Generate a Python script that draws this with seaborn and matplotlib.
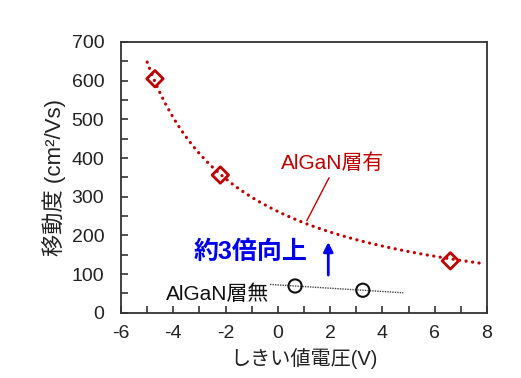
import numpy as np
import pandas as pd
import matplotlib
matplotlib.use("Agg")
import matplotlib.pyplot as plt
import seaborn as sns

# ---- data ----
with_x = [-4.7, -2.2, 6.6]          # AlGaN層有 (threshold voltage, V)
with_y = [605, 356, 134]            # mobility cm2/Vs
without_x = [0.66, 3.25]            # AlGaN層無
without_y = [69, 58]

# model curve (mobility ~ a/(Vth + c) + d) drawn over this range
model_a, model_c, model_d = 2452.0, 8.663, -21.4
model_range = [-5.0, 7.75]
lin_range = [-0.3, 4.8]

xticks = [-6, -4, -2, 0, 2, 4, 6, 8]
yticks = [0, 100, 200, 300, 400, 500, 600, 700]

RED = "#C00000"
BLUE = "#0000F0"

sns.set_theme(style="ticks")
plt.rcParams["font.family"] = ["Liberation Sans", "Noto Sans CJK JP"]
plt.rcParams["axes.unicode_minus"] = False

fig = plt.figure(figsize=(5.21, 3.78), dpi=100)
ax = fig.add_axes([0.2322, 0.1728, 0.9347 - 0.2322, 0.8889 - 0.1728])

# model curve
mx = np.linspace(model_range[0], model_range[1], 300)
my = model_a / (mx + model_c) + model_d
sns.lineplot(x=mx, y=my, ax=ax, color=RED, lw=2.3,
             linestyle=(0, (0.05, 2.0)), dash_capstyle="round", sort=False)

# linear fit for no-AlGaN data
p = np.polyfit(without_x, without_y, 1)
lx = np.array(lin_range)
sns.lineplot(x=lx, y=np.polyval(p, lx), ax=ax, color="#444444", lw=1.0,
             linestyle=(0, (1, 0.8)))

# markers
sns.scatterplot(x=with_x, y=with_y, ax=ax, marker="D", s=70,
                color=RED, linewidth=2.0, zorder=5)
ax.collections[-1].set_facecolor("none")
ax.collections[-1].set_edgecolor(RED)
sns.scatterplot(x=without_x, y=without_y, ax=ax, marker="o", s=90,
                color="black", linewidth=1.5, zorder=5)
ax.collections[-1].set_facecolor("none")
ax.collections[-1].set_edgecolor("#111111")

# annotations
ax.text(2.11, 386, "AlGaN層有", color=RED, fontsize=15, ha="center", va="center")
ax.plot([1.96, 1.11], [349, 238], color=RED, lw=1.0)
ax.text(-2.29, 47, "AlGaN層無", color="#111111", fontsize=15, ha="center", va="center")
ax.text(-1.03, 158, "約3倍向上", color=BLUE, fontsize=18, fontweight="bold",
        ha="center", va="center")
ax.annotate("", xy=(1.93, 190), xytext=(1.93, 90),
            arrowprops=dict(arrowstyle="-|>", color=BLUE, lw=2.0, mutation_scale=14))

ax.set_xlim(-6, 8)
ax.set_ylim(0, 700)
ax.set_xticks(xticks)
ax.set_yticks(yticks)
ax.set_xticks(np.arange(-6, 9, 1), minor=True)
ax.set_yticks(np.arange(0, 701, 50), minor=True)
ax.tick_params(which="both", direction="in", length=5, width=1.2, color="#333333")
ax.tick_params(axis="both", labelsize=14, labelcolor="#222222")
ax.tick_params(axis="y", pad=12)
ax.tick_params(axis="x", pad=9)
for s in ax.spines.values():
    s.set_visible(True)
    s.set_linewidth(1.3)
    s.set_color("#333333")

ax.set_xlabel("しきい値電圧(V)", fontsize=14.5, color="#222222", labelpad=4)
ax.set_ylabel("移動度 (cm²/Vs)", fontsize=16, color="#222222", labelpad=4)

fig.savefig("out.png", dpi=100)
